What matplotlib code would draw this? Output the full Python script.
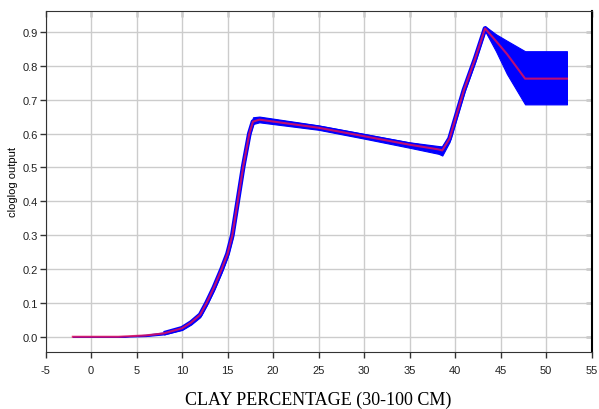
import numpy as np
import matplotlib
matplotlib.use("Agg")
import matplotlib.pyplot as plt

# Data
clay = [-2, 3, 6, 8, 10, 11, 12, 12.7, 13.5, 14.36, 15, 15.53, 16.12, 16.74,
        17.4, 17.8, 18.5, 25, 30, 35, 38.2, 38.6, 39.4, 40, 41, 42.2, 43.3,
        44.5, 45.7, 47.7, 52.3]
mean_out = [0, 0, 0.004, 0.01, 0.025, 0.042, 0.065, 0.1, 0.145, 0.2, 0.245, 0.3,
            0.4, 0.505, 0.6, 0.635, 0.641, 0.617, 0.592, 0.567, 0.553, 0.55,
            0.585, 0.64, 0.73, 0.82, 0.91, 0.873, 0.835, 0.762, 0.762]
band_lo = [0, 0, 0.002, 0.007, 0.02, 0.036, 0.058, 0.092, 0.136, 0.19, 0.235, 0.29,
           0.39, 0.495, 0.59, 0.628, 0.633, 0.611, 0.585, 0.558, 0.54, 0.535,
           0.575, 0.63, 0.72, 0.81, 0.903, 0.843, 0.776, 0.686, 0.686]
band_hi = [0, 0, 0.006, 0.013, 0.03, 0.048, 0.072, 0.108, 0.154, 0.21, 0.255, 0.31,
           0.41, 0.515, 0.61, 0.648, 0.65, 0.624, 0.599, 0.574, 0.563, 0.562,
           0.595, 0.65, 0.74, 0.83, 0.917, 0.893, 0.874, 0.843, 0.843]

xticks = list(range(-5, 56, 5))
yticks = [0.0, 0.1, 0.2, 0.3, 0.4, 0.5, 0.6, 0.7, 0.8, 0.9]

fig = plt.figure(figsize=(5.99, 4.10), dpi=100)
ax = fig.add_axes([0.076, 0.139, 0.9115, 0.832])

# blue uncertainty band
ax.plot(clay[3:], mean_out[3:], color='#0000ff', lw=3.4, solid_capstyle='butt', zorder=2)
ax.fill_between(clay, band_lo, band_hi, color='#0000ff', lw=0.8, edgecolor='#0000ff', zorder=2)
# mean response
ax.plot(clay, mean_out, color='#e0105a', lw=1.5, alpha=0.85, zorder=3)

ax.set_xlim(-5, 55)
ax.set_ylim(-0.045, 0.962)
ax.set_xticks(xticks)
ax.set_yticks(yticks)
ax.set_xticklabels([str(t) for t in xticks], fontsize=8, family='Liberation Sans', color='#222222')
ax.set_yticklabels([f"{t:.1f}" for t in yticks], fontsize=8, family='Liberation Sans', color='#222222')
ax.grid(True, color='#cccccc', lw=1.0)
ax.set_axisbelow(True)

ax.tick_params(axis='both', which='both', length=4, width=1, color='#333333')
ax.tick_params(axis='x', which='both', direction='out', pad=5)
ax.tick_params(axis='y', which='both', direction='out', pad=1.5)
# inward ticks on top and right
sec_x = ax.secondary_xaxis('top')
sec_x.set_xticks(xticks)
sec_x.tick_params(direction='in', length=4, width=1, labeltop=False, color='#333333')
sec_x.spines['top'].set_visible(False)
sec_y = ax.secondary_yaxis('right')
sec_y.set_yticks(yticks)
sec_y.tick_params(direction='in', length=4, width=1, labelright=False, color='#111111')
sec_y.spines['right'].set_visible(False)

for s in ['left', 'bottom', 'top']:
    ax.spines[s].set_color('#333333')
ax.spines['right'].set_color('#000000')
ax.spines['right'].set_linewidth(1.5)

ax.set_ylabel('cloglog output', fontsize=8, family='Liberation Sans', labelpad=3)
ax.set_xlabel('CLAY PERCENTAGE (30-100 CM)', fontsize=13, family='Liberation Serif', labelpad=12)

fig.savefig('out.png', dpi=100)
